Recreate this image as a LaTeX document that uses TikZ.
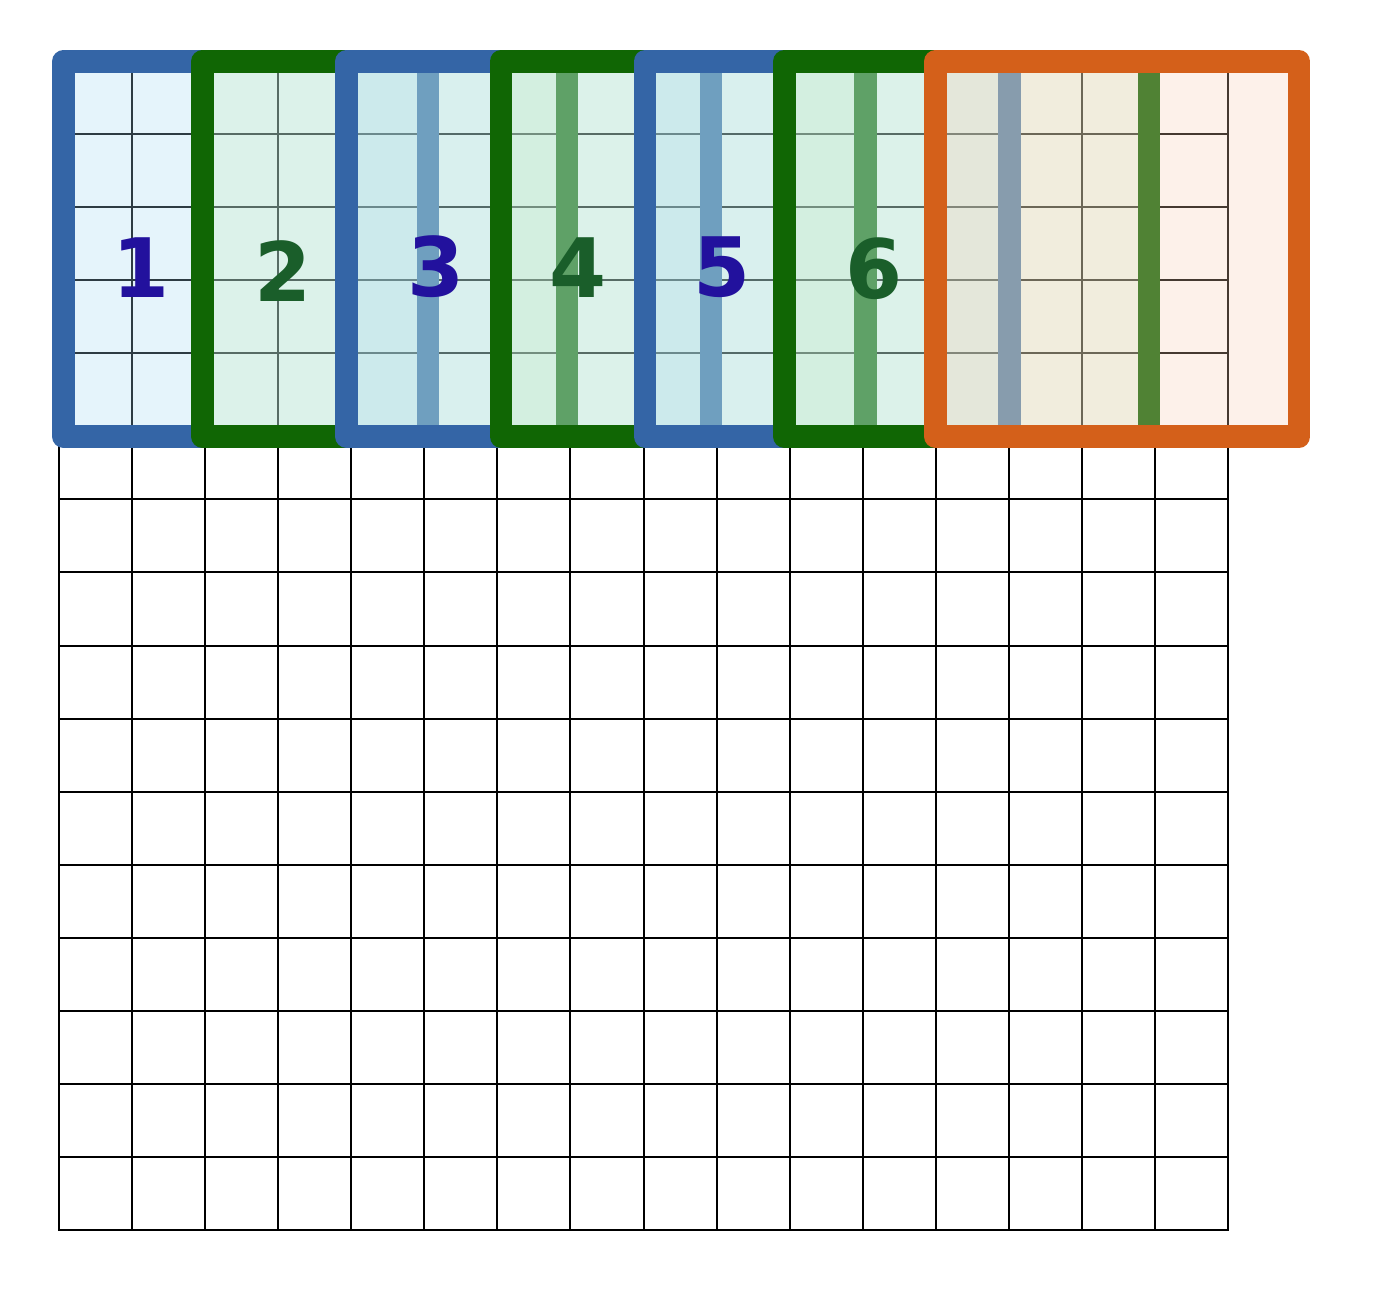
\documentclass[tikz,border=0pt]{standalone}
\usepackage{fontspec}
\setmainfont{DejaVu Sans}
\definecolor{bstroke}{RGB}{52,101,166}
\definecolor{gstroke}{RGB}{16,102,4}
\definecolor{ostroke}{RGB}{212,96,26}
\definecolor{bfill}{RGB}{162,215,242}
\definecolor{gfill}{RGB}{197,237,190}
\definecolor{ofill}{RGB}{248,205,178}
\definecolor{oddtxt}{RGB}{34,17,157}
\definecolor{eventxt}{RGB}{26,94,42}
\begin{document}
\begin{tikzpicture}[x=1pt,y=-1pt,
  gridline/.style={line width=2pt, draw=black, line cap=rect},
  win/.style={line width=22.7pt, line join=round, fill opacity=0.28},
  bluewin/.style={win, draw=bstroke, fill=bfill},
  greenwin/.style={win, draw=gstroke, fill=gfill},
  orangewin/.style={win, draw=ostroke, fill=ofill},
  num/.style={inner sep=0pt, font=\bfseries\fontsize{82}{98}\selectfont},
  oddnum/.style={num, text=oddtxt},
  evennum/.style={num, text=eventxt}]
\useasboundingbox (0,0) rectangle (1380,1300);
% grid
\foreach \i in {0,...,16}{
  \draw[gridline] ({59+73.0625*\i},61) -- ({59+73.0625*\i},1230);
  \draw[gridline] (59,{61+73.0625*\i}) -- (1228,{61+73.0625*\i});
}
% windows
\draw[bluewin]   (63.5,61.3)  rectangle (428,436.5);
\draw[greenwin]  (202.5,61.3) rectangle (567,436.5);
\draw[bluewin]   (346.5,61.3) rectangle (711,436.5);
\draw[greenwin]  (501,61.3)   rectangle (865.5,436.5);
\draw[bluewin]   (645,61.3)   rectangle (1009.5,436.5);
\draw[greenwin]  (784.5,61.3) rectangle (1149,436.5);
\draw[orangewin] (935.5,61.3) rectangle (1299,436.5);
% labels
\node[oddnum]  (n1) at (141,268)   {1};
\node[evennum] (n2) at (283.5,271) {2};
\node[oddnum]  (n3) at (436.5,266.5) {3};
\node[evennum] (n4) at (578,267.5) {4};
\node[oddnum]  (n5) at (722,267.5) {5};
\node[evennum] (n6) at (874,269)   {6};
\end{tikzpicture}
\end{document}
